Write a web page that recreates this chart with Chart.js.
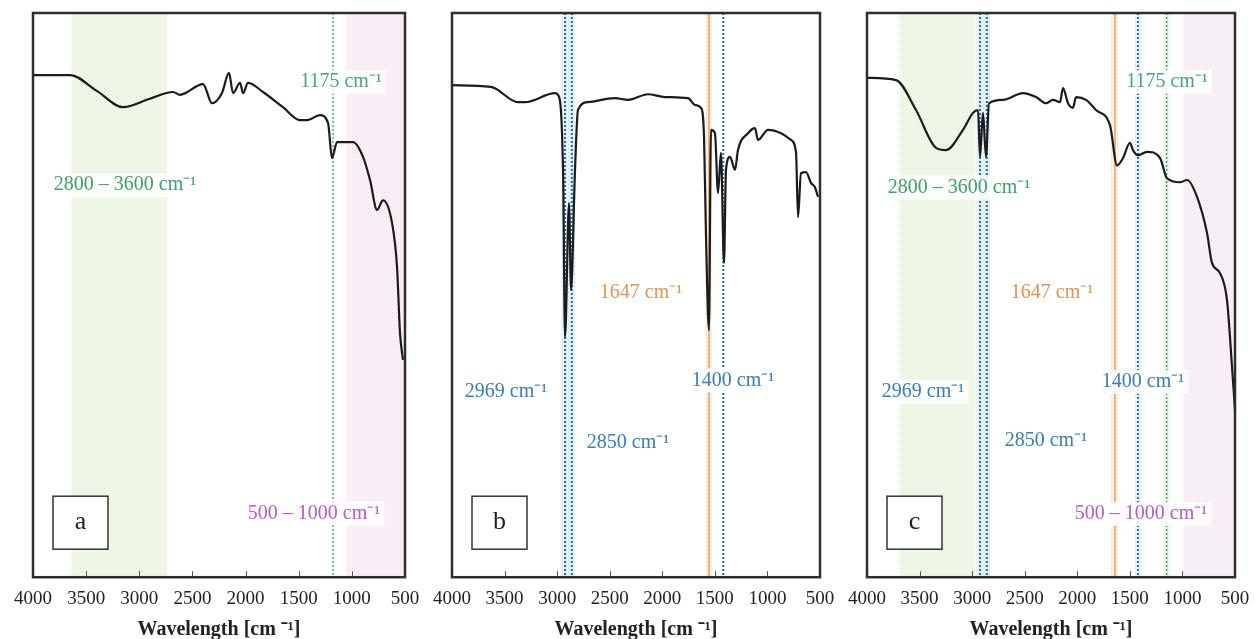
<!DOCTYPE html>
<html>
<head>
<meta charset="utf-8">
<script src="https://cdn.jsdelivr.net/npm/chart.js@4.4.1/dist/chart.umd.min.js"></script>
<style>
  html, body { margin: 0; padding: 0; background: #fff; }
  body { width: 1255px; height: 639px; position: relative; overflow: hidden; }
  canvas { position: absolute; top: 0; }
</style>
</head>
<body>
<canvas id="panelA" width="430" height="639" style="left:0px"></canvas>
<canvas id="panelB" width="425" height="639" style="left:420px"></canvas>
<canvas id="panelC" width="430" height="639" style="left:835px"></canvas>
<script>
// x axis ticks (wavenumber, cm-1), axis runs from 4000 down to 500
var xTicks = [ 4000, 3500, 3000, 2500, 2000, 1500, 1000, 500 ];

// panel a spectrum (transmittance in % of the frame height)
var waveA = [ 4000, 3652, 3400, 3153, 2900, 2683, 2617, 2400, 2316, 2222,
	2156, 2118, 2052, 2024, 1977, 1836, 1648, 1488, 1422, 1300,
	1224, 1187, 1139, 989, 895, 829, 763, 707, 622, 575,
	547, 519 ];
var transA = [ 89.0, 89.0, 86.2, 83.3, 84.8, 86.0, 85.5, 87.4, 84.0, 85.8,
	89.4, 85.8, 87.6, 85.8, 87.6, 86.0, 83.3, 81.0, 81.0, 81.9,
	80.5, 74.3, 77.1, 77.1, 74.5, 70.4, 65.1, 66.8, 62.8, 55.0,
	43.3, 38.5 ];

// panel b spectrum
var waveB = [ 4000, 3629, 3372, 3306, 3020, 2992, 2944, 2925, 2887, 2868,
	2830, 2802, 2707, 2450, 2326, 2136, 1974, 1755, 1689, 1632,
	1603, 1584, 1556, 1537, 1499, 1470, 1442, 1413, 1394, 1356,
	1308, 1280, 1185, 1118, 1090, 995, 871, 776, 728, 709,
	681, 633, 586, 548, 519 ];
var transB = [ 87.2, 86.9, 84.2, 84.2, 85.8, 85.5, 72.2, 42.6, 66.3, 50.9,
	72.2, 82.8, 84.2, 84.9, 84.6, 85.6, 85.1, 84.9, 83.7, 83.2,
	78.0, 60.3, 43.8, 79.3, 78.7, 68.1, 75.2, 55.7, 72.2, 74.5,
	72.2, 75.7, 78.7, 79.6, 77.5, 79.3, 78.7, 77.5, 75.2, 63.8,
	71.6, 71.8, 69.9, 69.1, 67.4 ];

// panel c spectrum
var waveC = [ 4000, 3724, 3534, 3344, 3249, 3087, 2992, 2944, 2925, 2897,
	2868, 2840, 2707, 2516, 2393, 2298, 2231, 2164, 2136, 2088,
	2041, 2012, 1917, 1822, 1689, 1622, 1565, 1499, 1470, 1423,
	1337, 1213, 1147, 1023, 956, 861, 766, 719, 643, 576,
	528, 500 ];
var transC = [ 88.5, 88.1, 82.8, 76.1, 75.7, 79.3, 82.3, 82.8, 74.5, 82.3,
	74.5, 84.0, 84.6, 85.8, 85.1, 84.0, 84.6, 84.2, 86.7, 84.0,
	83.2, 85.1, 84.6, 82.8, 80.1, 73.0, 74.3, 77.0, 75.7, 74.8,
	75.4, 74.3, 70.7, 70.0, 70.4, 67.4, 61.0, 55.7, 53.9, 49.1,
	37.2, 29.6 ];

// shaded wavenumber ranges [from, to] and their kind
var bandsA = [ [ 3640, 2740, "green" ], [ 1050, 500, "pink" ] ];
var bandsB = [ [ 2960, 2830, "blue" ], [ 1590, 1525, "orange" ] ];
var bandsC = [ [ 3690, 2970, "green" ], [ 2960, 2830, "blue" ], [ 1680, 1610, "orange" ],
	[ 1450, 1395, "blue" ], [ 1180, 1120, "green" ], [ 990, 500, "pink" ] ];

// marked peaks (vertical dotted lines) [wavenumber, kind]
var peaksA = [ [ 1177, "teal" ] ];
var peaksB = [ [ 2925, "blue" ], [ 2860, "blue" ], [ 1556, "orange" ], [ 1420, "blue" ] ];
var peaksC = [ [ 2925, "blue" ], [ 2860, "blue" ], [ 1641, "orange" ], [ 1423, "blue" ], [ 1150, "teal" ] ];

// annotation texts [text, wavenumber, level, kind]
var notesA = [ [ "1175 cm\u207B\u00B9", 1102, 87.8, "teal" ],
	[ "2800 \u2013 3600 cm\u207B\u00B9", 3134, 69.5, "green" ],
	[ "500 \u2013 1000 cm\u207B\u00B9", 1356, 11.3, "pink" ] ];
var notesB = [ [ "1647 cm\u207B\u00B9", 2202, 50.5, "orange" ],
	[ "2969 cm\u207B\u00B9", 3486, 32.8, "blue" ],
	[ "2850 cm\u207B\u00B9", 2326, 23.9, "blue" ],
	[ "1400 cm\u207B\u00B9", 1327, 34.9, "blue" ] ];
var notesC = [ [ "1175 cm\u207B\u00B9", 1147, 87.8, "teal" ],
	[ "2800 \u2013 3600 cm\u207B\u00B9", 3125, 69.1, "green" ],
	[ "1647 cm\u207B\u00B9", 2240, 50.5, "orange" ],
	[ "2969 cm\u207B\u00B9", 3467, 32.8, "blue" ],
	[ "2850 cm\u207B\u00B9", 2298, 24.1, "blue" ],
	[ "1400 cm\u207B\u00B9", 1375, 34.6, "blue" ],
	[ "500 \u2013 1000 cm\u207B\u00B9", 1394, 11.2, "pink" ] ];

// styles
var bandStyle = {
	green: [ "#f2f9ea", "#d3e8c6" ],
	pink: [ "#fcf3f8", "#efd3e4" ],
	blue: [ "#eaf4fb", "#bcd9ec" ],
	orange: [ "#fdf3e9", "#f2d4b8" ]
};
var lineStyle = {
	teal: { color: "#3f8f7c", width: 1.3, dash: [ 2, 2 ] },
	blue: { color: "#2b6d9c", width: 2, dash: [ 2, 2 ] },
	orange: { color: "#eba46e", width: 1.6, dash: [] }
};
var textColor = {
	teal: "#47a386",
	green: "#3f9f6c",
	pink: "#b25ec2",
	blue: "#3a7db3",
	orange: "#e0935a"
};
var serif = "\"Liberation Serif\", \"Times New Roman\", serif";

Chart.defaults.font.family = serif;

function dotPattern( ctx, kind ) {
	var c = document.createElement( "canvas" ),
		g = c.getContext( "2d" );
	c.width = 4;
	c.height = 4;
	g.fillStyle = bandStyle[ kind ][ 0 ];
	g.fillRect( 0, 0, 4, 4 );
	g.fillStyle = bandStyle[ kind ][ 1 ];
	g.fillRect( 0, 0, 1, 1 );
	g.fillRect( 2, 2, 1, 1 );
	return ctx.createPattern( c, "repeat" );
}

var decor = {
	id: "decor",
	beforeDatasetsDraw: function( chart, args, opts ) {
		var ctx = chart.ctx,
			a = chart.chartArea,
			x = chart.scales.x,
			y = chart.scales.y;

		ctx.save();
		ctx.beginPath();
		ctx.rect( a.left, a.top, a.right - a.left, a.bottom - a.top );
		ctx.clip();

		// shaded bands
		opts.bands.forEach( function( b ) {
			var x1 = x.getPixelForValue( b[ 0 ] ),
				x2 = x.getPixelForValue( b[ 1 ] );
			ctx.fillStyle = dotPattern( ctx, b[ 2 ] );
			ctx.fillRect( Math.min( x1, x2 ), a.top, Math.abs( x2 - x1 ), a.bottom - a.top );
		} );

		// peak lines
		opts.peaks.forEach( function( p ) {
			var st = lineStyle[ p[ 1 ] ],
				px = x.getPixelForValue( p[ 0 ] );
			ctx.strokeStyle = st.color;
			ctx.lineWidth = st.width;
			ctx.setLineDash( st.dash );
			ctx.beginPath();
			ctx.moveTo( px, a.top );
			ctx.lineTo( px, a.bottom );
			ctx.stroke();
		} );
		ctx.setLineDash( [] );

		// notes
		ctx.font = "20px " + serif;
		ctx.textAlign = "center";
		ctx.textBaseline = "middle";
		opts.notes.forEach( function( n ) {
			var px = x.getPixelForValue( n[ 1 ] ),
				py = y.getPixelForValue( n[ 2 ] ),
				w = ctx.measureText( n[ 0 ] ).width;
			ctx.fillStyle = "rgba(255,255,255,0.9)";
			ctx.fillRect( px - w / 2 - 4, py - 12, w + 8, 24 );
			ctx.fillStyle = textColor[ n[ 3 ] ];
			ctx.fillText( n[ 0 ], px, py );
		} );
		ctx.restore();
	},
	afterDatasetsDraw: function( chart, args, opts ) {
		var ctx = chart.ctx,
			a = chart.chartArea,
			x = chart.scales.x,
			bx = a.left + 20,
			by = a.bottom - 81;

		ctx.save();

		// inward tick marks
		ctx.strokeStyle = "#555";
		ctx.lineWidth = 1;
		xTicks.forEach( function( t ) {
			var px = Math.round( x.getPixelForValue( t ) ) + 0.5;
			ctx.beginPath();
			ctx.moveTo( px, a.bottom );
			ctx.lineTo( px, a.bottom - 6 );
			ctx.stroke();
		} );

		// frame
		ctx.strokeStyle = "#2e2e2e";
		ctx.lineWidth = 2.5;
		ctx.strokeRect( a.left, a.top, a.right - a.left, a.bottom - a.top );

		// panel letter box
		ctx.fillStyle = "#fff";
		ctx.fillRect( bx, by, 55, 53 );
		ctx.strokeStyle = "#333";
		ctx.lineWidth = 1.5;
		ctx.strokeRect( bx, by, 55, 53 );
		ctx.fillStyle = "#222";
		ctx.font = "26px " + serif;
		ctx.textAlign = "center";
		ctx.textBaseline = "middle";
		ctx.fillText( opts.letter, bx + 27.5, by + 26 );
		ctx.restore();
	}
};

function makePanel( id, wave, trans, bands, peaks, notes, letter, padLeft, padRight ) {
	var points = wave.map( function( w, i ) {
		return { x: w, y: trans[ i ] };
	} );

	return new Chart( document.getElementById( id ), {
		type: "line",
		data: {
			datasets: [ {
				data: points,
				borderColor: "#1b1b1b",
				borderWidth: 2.2,
				pointRadius: 0,
				cubicInterpolationMode: "monotone",
				fill: false
			} ]
		},
		options: {
			responsive: false,
			animation: false,
			layout: { padding: { top: 13, left: padLeft, right: padRight, bottom: -1 } },
			scales: {
				x: {
					type: "linear",
					reverse: true,
					min: 500,
					max: 4000,
					afterBuildTicks: function( scale ) {
						scale.ticks = xTicks.map( function( v ) {
							return { value: v };
						} );
					},
					grid: { display: false, drawTicks: false },
					border: { display: false },
					ticks: {
						color: "#222",
						font: { size: 19, family: serif },
						padding: 10,
						maxRotation: 0,
						autoSkip: false,
						callback: function( v ) {
							return String( v );
						}
					},
					title: {
						display: true,
						text: "Wavelength [cm \u207B\u00B9]",
						color: "#222",
						font: { size: 20, weight: "bold", family: serif, lineHeight: 1 },
						padding: { top: 0, bottom: 0 }
					}
				},
				y: { display: false, min: 0, max: 100 }
			},
			plugins: {
				legend: { display: false },
				tooltip: { enabled: false },
				decor: { bands: bands, peaks: peaks, notes: notes, letter: letter }
			}
		},
		plugins: [ decor ]
	} );
}

makePanel( "panelA", waveA, transA, bandsA, peaksA, notesA, "a", 33, 25 );
makePanel( "panelB", waveB, transB, bandsB, peaksB, notesB, "b", 32, 25 );
makePanel( "panelC", waveC, transC, bandsC, peaksC, notesC, "c", 32, 30 );
</script>
</body>
</html>
